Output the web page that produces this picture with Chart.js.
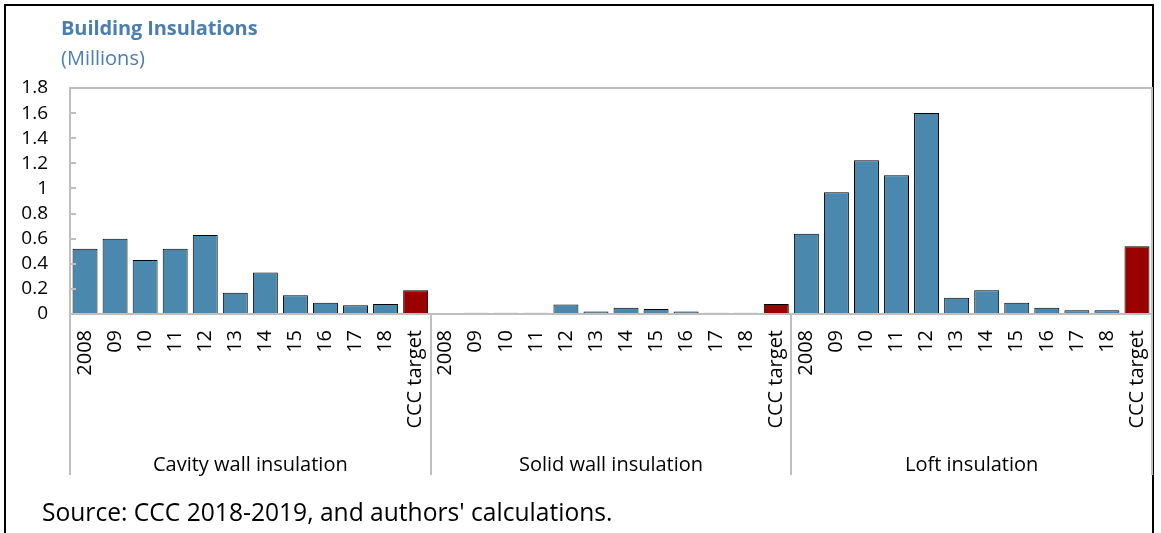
<!DOCTYPE html>
<html>
<head>
<meta charset="utf-8">
<script src="https://cdn.jsdelivr.net/npm/chart.js@4.4.1/dist/chart.umd.min.js"></script>
<style>
  body { margin: 0; background: #fff; overflow: hidden; }
  #wrap { position: relative; width: 1161px; height: 533px; }
  #frame { position: absolute; left: 4px; top: 4px; width: 1150px; height: 600px; border: 2px solid #000; box-sizing: border-box; }
  canvas { position: absolute; left: 0; top: 0; }
  .t { position: absolute; font-family: "Open Sans", "Noto Sans", sans-serif; white-space: nowrap; line-height: normal; }
  #title { left: 61px; top: 14px; font-size: 20px; font-weight: bold; color: #4a7eb0; letter-spacing: -0.1px; }
  #unit { left: 61px; top: 44px; font-size: 20px; color: #4a7eb0; }
  #source { left: 42px; top: 495px; font-size: 24.6px; color: #000; }
</style>
</head>
<body>
<div id="wrap">
  <div id="frame"></div>
  <canvas id="grafico" width="1161" height="533"></canvas>
  <div class="t" id="title">Building Insulations</div>
  <div class="t" id="unit">(Millions)</div>
  <div class="t" id="source">Source: CCC 2018-2019, and authors' calculations.</div>
</div>
<script>
// dados
const anos = ['2008', '09', '10', '11', '12', '13', '14', '15', '16', '17', '18', 'CCC target'];
const grupos = ['Cavity wall insulation', 'Solid wall insulation', 'Loft insulation'];
const cavidade = [0.52, 0.60, 0.43, 0.52, 0.63, 0.17, 0.33, 0.15, 0.09, 0.07, 0.08, 0.19];
const solida = [0.0, 0.01, 0.01, 0.01, 0.075, 0.02, 0.05, 0.04, 0.02, 0.01, 0.01, 0.08];
const sotao = [0.64, 0.97, 1.225, 1.105, 1.60, 0.13, 0.19, 0.09, 0.05, 0.03, 0.03, 0.54];
const yTicks = [0, 0.2, 0.4, 0.6, 0.8, 1, 1.2, 1.4, 1.6, 1.8];

const azul = '#4a89ad';
const vermelho = '#9b0000';
const cinza = '#bfbfbf';
const fonte = '"Open Sans", "Noto Sans", sans-serif';

const labels = [].concat(anos, anos, anos);
const valores = [].concat(cavidade, solida, sotao);
const cores = labels.map(l => l === 'CCC target' ? vermelho : azul);

// moldura, marcas do eixo y, separadores e nomes dos grupos
const moldura = {
    id: 'moldura',
    afterDraw(chart) {
        const ctx = chart.ctx;
        const a = chart.chartArea;
        const x = chart.scales.x;
        const y = chart.scales.y;
        const n = anos.length;
        const limite = g => {
            if (g === 0) return a.left;
            if (g === grupos.length) return a.right;
            return (x.getPixelForValue(g * n - 1) + x.getPixelForValue(g * n)) / 2;
        };
        ctx.save();
        ctx.strokeStyle = cinza;
        ctx.lineWidth = 2;
        ctx.strokeRect(a.left, a.top, a.right - a.left, a.bottom - a.top);
        ctx.beginPath();
        yTicks.forEach(v => {
            const py = Math.round(y.getPixelForValue(v));
            ctx.moveTo(a.left, py);
            ctx.lineTo(a.left + 6, py);
        });
        ctx.stroke();

        const baixo = chart.height - 58;
        ctx.beginPath();
        for (let g = 0; g <= grupos.length; g++) {
            const px = Math.round(limite(g));
            ctx.moveTo(px, a.bottom);
            ctx.lineTo(px, baixo);
        }
        ctx.stroke();

        ctx.fillStyle = '#000';
        ctx.font = '20px ' + fonte;
        ctx.textAlign = 'center';
        ctx.textBaseline = 'alphabetic';
        grupos.forEach((nome, g) => {
            ctx.fillText(nome, (limite(g) + limite(g + 1)) / 2, 471);
        });
        ctx.restore();
    }
};

new Chart(document.getElementById('grafico').getContext('2d'), {
    type: 'bar',
    data: {
        labels: labels,
        datasets: [{
            data: valores,
            backgroundColor: cores,
            borderColor: '#000',
            borderWidth: 1,
            barPercentage: 0.83,
            categoryPercentage: 1
        }]
    },
    options: {
        responsive: false,
        animation: false,
        layout: { padding: { top: 88, right: 9, bottom: 58, left: 0 } },
        plugins: { legend: { display: false }, tooltip: { enabled: false } },
        scales: {
            x: {
                grid: { display: false, drawTicks: false },
                border: { display: false },
                ticks: {
                    autoSkip: false,
                    maxRotation: 90,
                    minRotation: 90,
                    padding: 16,
                    color: '#000',
                    font: { family: fonte, size: 20 }
                },
                afterFit(s) {
                    s.height = 161;
                    s.paddingLeft = 0;
                    s.paddingRight = 0;
                }
            },
            y: {
                min: 0,
                max: 1.8,
                grid: { display: false, drawTicks: false },
                border: { display: false },
                ticks: {
                    autoSkip: false,
                    stepSize: 0.2,
                    padding: 22,
                    color: '#000',
                    font: { family: fonte, size: 19 },
                    callback: v => String(+v.toFixed(1))
                },
                afterFit(s) {
                    s.width = 70;
                    s.paddingTop = 0;
                    s.paddingBottom = 0;
                }
            }
        }
    },
    plugins: [moldura]
});
</script>
</body>
</html>
